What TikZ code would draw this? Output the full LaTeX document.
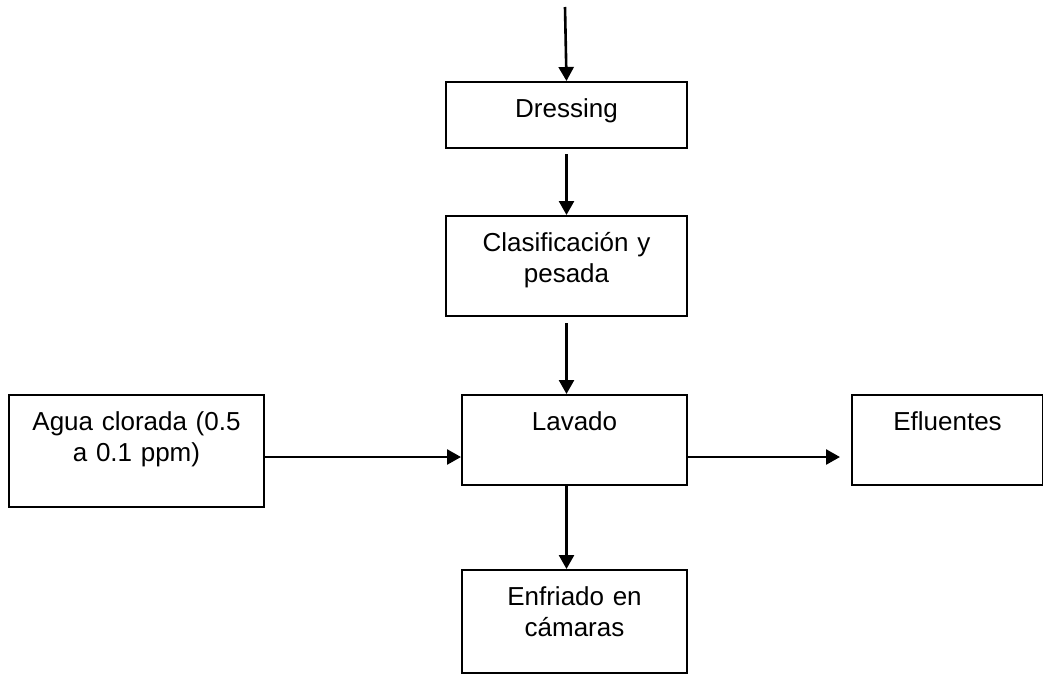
\documentclass[tikz,border=0pt]{standalone}
\usepackage{fontspec}
\setmainfont{Liberation Sans}
\usetikzlibrary{arrows.meta}

\begin{document}
\begin{tikzpicture}[x=0.5pt, y=-0.5pt,
  box/.style={draw, line width=1pt, anchor=north west, inner sep=0pt,
    align=center, text height=17.5pt, font=\fontsize{13}{15.5}\selectfont},
  flow/.style={line width=1.3pt, -{Triangle[length=7pt, width=7.5pt]}},
]
  \useasboundingbox (0,0) rectangle (1043,675);
  \node[box, text width=120.5pt, text depth=15.5pt] (dress) at (445,81) {Dressing};
  \node[box, text width=120.5pt, text depth=32.5pt] (clas) at (445,215) {Clasificación y\\pesada};
  \node[box, text width=112.5pt, text depth=27.5pt] (lav) at (461,394) {Lavado};
  \node[box, text width=127.5pt, text depth=38.5pt] (agua) at (8,394) {Agua clorada (0.5\\a 0.1 ppm)};
  \node[box, text width=95.5pt, text depth=27.5pt] (eflu) at (851,394) {Efluentes};
  \node[box, text width=112.5pt, text depth=34pt] (enfr) at (461,569) {Enfriado en\\cámaras};
  \coordinate (ent) at (565,7);
  \coordinate (mid) at (0,457);
  \draw[flow] (ent) -- (dress.north);
  \draw[flow] ([yshift=-2.5pt]dress.south) -- (clas.north);
  \draw[flow] ([yshift=-3pt]clas.south) -- (clas.south |- lav.north);
  \draw[flow] (clas.south |- lav.south) -- (clas.south |- enfr.north);
  \draw[flow] (agua.east |- mid) -- (lav.west |- mid);
  \draw[flow] (lav.east |- mid) -- ([xshift=-5.5pt]eflu.west |- mid);
\end{tikzpicture}
\end{document}
